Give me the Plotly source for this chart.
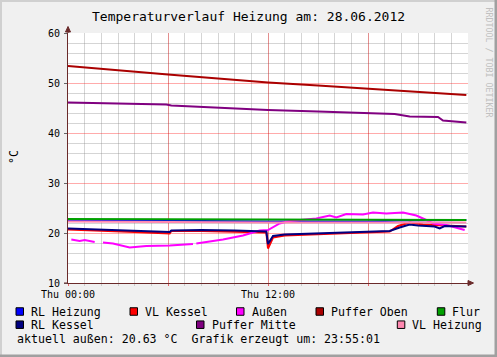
import plotly.graph_objects as go

# ---------------- data (hours since 00:00, °C) ----------------
rl_heizung_h = [0, 6, 12, 18, 20, 23.9]
rl_heizung_v = [22.6, 22.4, 22.3, 22.3, 22.5, 22.6]

vl_kessel_h = [0, 2, 4, 6.1, 6.2, 8, 10, 11.9, 12.0, 12.3, 13, 15, 18, 19.3, 19.8, 20.5, 21.3, 22, 23, 23.9]
vl_kessel_v = [20.7, 20.5, 20.2, 19.9, 20.4, 20.4, 20.3, 20.1, 16.9, 19.1, 19.5, 19.8, 20.1, 20.3, 21.4, 22.1, 21.7, 21.6, 21.5, 21.3]

aussen_h = [0.2, 0.7, 1.0, 1.6, 1.8, 2.1, 2.7, 3.7, 4.7, 6.1, 7.5, 7.6, 7.7, 9.3, 10.5, 11.5, 12.0, 12.3, 12.7, 13.3,
            14.9, 15.7, 16.1, 16.7, 17.7, 18.3, 19.1, 20.1, 20.9, 21.5, 21.9, 22.7, 23.5, 23.8]
aussen_v = [18.7, 18.4, 18.6, 18.2, None, 18.1, 17.9, 17.1, 17.4, 17.5, 17.8, None, 17.9, 18.7, 19.5, 20.5, 20.6, 21.1, 21.9, 22.4,
            22.9, 23.5, 23.1, 23.8, 23.7, 24.1, 23.9, 24.1, 23.5, 22.6, 21.9, 21.6, 20.9, 20.6]

puffer_oben_h = [0, 3, 6, 9, 12, 15, 18, 21, 23.9]
puffer_oben_v = [53.4, 52.5, 51.7, 50.9, 50.1, 49.5, 48.9, 48.2, 47.6]

flur_h = [0, 8, 16, 23.9]
flur_v = [22.8, 22.7, 22.6, 22.6]

rl_kessel_h = [0, 2, 4, 6.1, 6.2, 8, 10, 11.9, 12.0, 12.3, 13, 15, 18, 19.3, 19.9, 20.5, 21, 22, 22.3, 22.6, 23.9]
rl_kessel_v = [20.9, 20.7, 20.4, 20.2, 20.5, 20.6, 20.5, 20.3, 17.8, 19.4, 19.7, 19.9, 20.2, 20.4, 21.1, 21.7, 21.5, 21.3, 20.9, 21.4, 21.3]

puffer_mitte_h = [0, 3, 5.9, 6.2, 8, 10, 12, 15, 18, 19.6, 20.5, 22.2, 22.5, 23.9]
puffer_mitte_v = [46.1, 45.9, 45.7, 45.5, 45.2, 44.9, 44.6, 44.3, 43.9, 43.8, 43.3, 43.2, 42.5, 42.1]

vl_heizung_h = [0, 12, 23.9]
vl_heizung_v = [22.3, 22.1, 22.1]

series_names = ["RL Heizung", "VL Kessel", "Außen", "Puffer Oben", "Flur", "RL Kessel", "Puffer Mitte", "VL Heizung"]
series_colors = ["#0000ff", "#ff0000", "#ff00ff", "#aa0000", "#00a000", "#000080", "#800080", "#ff88b0"]
series_data = [(rl_heizung_h, rl_heizung_v), (vl_kessel_h, vl_kessel_v), (aussen_h, aussen_v),
               (puffer_oben_h, puffer_oben_v), (flur_h, flur_v), (rl_kessel_h, rl_kessel_v),
               (puffer_mitte_h, puffer_mitte_v), (vl_heizung_h, vl_heizung_v)]

x_tickvals = [0, 6, 12, 18]
x_ticktext = ["Thu 00:00", "", "Thu 12:00", ""]

title_text = "Temperaturverlauf Heizung am: 28.06.2012"
footer_text = "aktuell außen: 20.63 °C  Grafik erzeugt um: 23:55:01"

# ---------------- layout helpers ----------------
W, H = 497, 357
L, R, T, B = 68, 468, 33, 283
MONO = "DejaVu Sans Mono"


def px(x):
    return (x - L) / (R - L)


def py(y):
    return (B - y) / (B - T)


fig = go.Figure()
for name, color, (hx, vy) in zip(series_names, series_colors, series_data):
    fig.add_trace(go.Scatter(x=hx, y=vy, mode="lines", name=name,
                             line=dict(color=color, width=2), connectgaps=False,
                             showlegend=False, hoverinfo="skip"))

major_grid = "rgba(255,0,0,0.33)"
minor_grid = "rgba(128,128,128,0.33)"
axis_col = "#6a2a2a"

fig.update_layout(
    width=W, height=H,
    margin=dict(l=L, r=W - R, t=T, b=H - B, autoexpand=False),
    paper_bgcolor="#f0f0f0", plot_bgcolor="#ffffff",
    showlegend=False,
    font=dict(family=MONO, size=10, color="#000000"),
    xaxis=dict(range=[0, 24], tickmode="array", tickvals=x_tickvals, ticktext=x_ticktext,
               showgrid=True, gridcolor=major_grid, gridwidth=1,
               minor=dict(tickmode="linear", tick0=0, dtick=1, showgrid=True, gridcolor=minor_grid,
                          ticks="outside", ticklen=2, tickcolor=minor_grid),
               showline=True, linecolor=axis_col, linewidth=1,
               ticks="outside", ticklen=2, tickcolor="rgba(255,0,0,0.5)",
               zeroline=False, fixedrange=True, automargin=False,
               tickfont=dict(family=MONO, size=10, color="#000")),
    yaxis=dict(range=[10, 60], tickmode="linear", tick0=10, dtick=10,
               showgrid=True, gridcolor=major_grid, gridwidth=1,
               minor=dict(tickmode="linear", tick0=10, dtick=2, showgrid=True, gridcolor=minor_grid),
               showline=True, linecolor=axis_col, linewidth=1,
               ticks="outside", ticklen=3, tickcolor="#666666",
               zeroline=False, fixedrange=True, ticklabelstandoff=2, automargin=False,
               tickfont=dict(family=MONO, size=10, color="#000")),
)

ann = []
ann.append(dict(text=title_text, x=px(248.7), y=py(16.5), xref="paper", yref="paper",
                showarrow=False, xanchor="center", yanchor="middle",
                font=dict(family=MONO, size=13, color="#000")))
ann.append(dict(text="°C", x=px(14), y=py(157), xref="paper", yref="paper", textangle=-90,
                showarrow=False, xanchor="center", yanchor="middle",
                font=dict(family=MONO, size=11.5, color="#000")))
ann.append(dict(text="RRDTOOL / TOBI OETIKER", x=px(488.5), y=py(62), xref="paper", yref="paper",
                textangle=90, showarrow=False, xanchor="center", yanchor="middle",
                font=dict(family=MONO, size=8.3, color="#c0c0c0")))

# legend layout (pixel positions): swatch x, row center y
legend_pos = [(16, 311.5), (130, 311.5), (236.5, 311.5), (316, 311.5), (437.3, 311.5),
              (16, 324.7), (196.5, 324.7), (397.3, 324.7)]
legend_order = ["RL Heizung", "VL Kessel", "Außen", "Puffer Oben", "Flur", "RL Kessel", "Puffer Mitte", "VL Heizung"]

shapes = []
for name, (sx, sy) in zip(legend_order, legend_pos):
    c = series_colors[series_names.index(name)]
    shapes.append(dict(type="rect", xref="paper", yref="paper",
                       x0=px(sx), x1=px(sx + 7.5), y0=py(sy - 3.75), y1=py(sy + 3.75),
                       fillcolor=c, line=dict(color="#000000", width=1)))
    ann.append(dict(text=name, x=px(sx + 13), y=py(sy), xref="paper", yref="paper",
                    showarrow=False, xanchor="left", yanchor="middle",
                    font=dict(family=MONO, size=11.6, color="#000")))

ann.append(dict(text=footer_text, x=px(15), y=py(339.3), xref="paper", yref="paper",
                showarrow=False, xanchor="left", yanchor="middle",
                font=dict(family=MONO, size=11.6, color="#000")))

# axis arrows
shapes.append(dict(type="path", xref="paper", yref="paper",
                   path=f"M {px(65.5)} {py(32)} L {px(68)} {py(26.5)} L {px(70.5)} {py(32)} Z",
                   fillcolor=axis_col, line=dict(color=axis_col, width=1)))
shapes.append(dict(type="line", xref="paper", yref="paper", x0=px(68), x1=px(68), y0=py(33), y1=py(30),
                   line=dict(color=axis_col, width=1)))
shapes.append(dict(type="path", xref="paper", yref="paper",
                   path=f"M {px(468)} {py(280.5)} L {px(473.5)} {py(283)} L {px(468)} {py(285.5)} Z",
                   fillcolor=axis_col, line=dict(color=axis_col, width=1)))
shapes.append(dict(type="line", xref="paper", yref="paper", x0=px(64), x1=px(68), y0=py(283), y1=py(283),
                   line=dict(color=axis_col, width=1)))

# 3D frame around the image
shapes.append(dict(type="rect", xref="paper", yref="paper", x0=px(0), x1=px(2), y0=py(0), y1=py(357),
                   fillcolor="#d0d0d0", line=dict(width=0)))
shapes.append(dict(type="rect", xref="paper", yref="paper", x0=px(0), x1=px(497), y0=py(0), y1=py(2),
                   fillcolor="#d0d0d0", line=dict(width=0)))
shapes.append(dict(type="rect", xref="paper", yref="paper", x0=px(494.5), x1=px(497), y0=py(0), y1=py(357),
                   fillcolor="#a0a0a0", line=dict(width=0)))
shapes.append(dict(type="rect", xref="paper", yref="paper", x0=px(0), x1=px(497), y0=py(354.5), y1=py(357),
                   fillcolor="#a0a0a0", line=dict(width=0)))

fig.update_layout(annotations=ann, shapes=shapes)
fig.write_html("out.html", config={"displayModeBar": False, "staticPlot": True},
               post_script="document.body.style.margin='0';document.body.style.overflow='hidden';")
